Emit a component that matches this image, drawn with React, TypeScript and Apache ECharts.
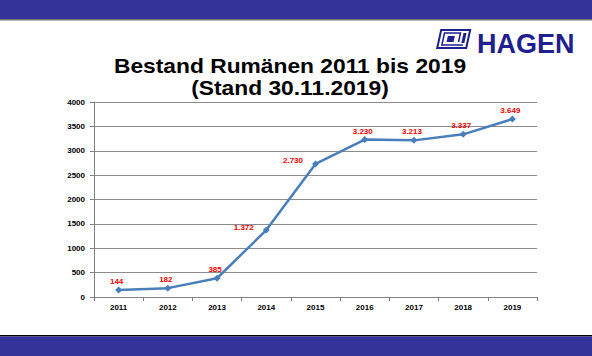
import React, { useEffect, useRef } from "react";
import * as echarts from "echarts";

const years = ["2011", "2012", "2013", "2014", "2015", "2016", "2017", "2018", "2019"];
const bestand = [144, 182, 385, 1372, 2730, 3230, 3213, 3337, 3649];
const yTicks = [0, 500, 1000, 1500, 2000, 2500, 3000, 3500, 4000];
const leftLabelYears = ["2014", "2015"];
const titleLines = ["Bestand Rumänen 2011 bis 2019", "(Stand 30.11.2019)"];

const fmt = (v: number) => String(v).replace(/\B(?=(\d{3})+(?!\d))/g, ".");

function iconPoly(x0: number, y0: number, pts: number[][]) {
  return pts.map(([x, y]) => [x0 + x + (19 - y) * 0.22, y0 + y]);
}

export default function App() {
  const ref = useRef<HTMLDivElement>(null);
  useEffect(() => {
    if (!ref.current) return;
    const chart = echarts.init(ref.current, null, { renderer: "svg" });
    const ix = 437;
    const iy = 30;
    const blue = "#1f1f8f";
    chart.setOption({
      animation: false,
      backgroundColor: "#ffffff",
      grid: { left: 94, right: 55, top: 102, bottom: 59 },
      xAxis: {
        type: "category",
        data: years,
        boundaryGap: true,
        axisLine: { lineStyle: { color: "#808080", width: 1 } },
        axisTick: { show: true, length: 4, lineStyle: { color: "#808080" } },
        axisLabel: {
          color: "#000",
          fontSize: 8,
          fontWeight: "bold",
          fontFamily: "Liberation Sans",
          margin: 6,
        },
      },
      yAxis: {
        type: "value",
        min: yTicks[0],
        max: yTicks[yTicks.length - 1],
        interval: 500,
        axisLine: { show: true, lineStyle: { color: "#808080", width: 1 } },
        axisTick: { show: true, length: 4, lineStyle: { color: "#808080" } },
        splitLine: { lineStyle: { color: "#8c8c8c", width: 1 } },
        axisLabel: {
          color: "#000",
          fontSize: 8,
          fontWeight: "bold",
          fontFamily: "Liberation Sans",
          margin: 9,
          formatter: (v: number) => String(v),
        },
      },
      series: [
        {
          type: "line",
          data: bestand.map((v, i) => {
            const left = leftLabelYears.includes(years[i]);
            return {
              value: v,
              label: left
                ? { position: "left", distance: 9, offset: [0, -3] }
                : { position: "top", distance: 1, offset: [-2, 0] },
            };
          }),
          symbol: "diamond",
          symbolSize: 7,
          lineStyle: { color: "#4a7ebb", width: 2.5 },
          itemStyle: { color: "#4a7ebb" },
          label: {
            show: true,
            color: "#ff0000",
            fontSize: 8,
            fontWeight: "bold",
            fontFamily: "Liberation Sans",
            formatter: (p: any) => fmt(p.value),
          },
        },
      ],
      graphic: [
        { type: "rect", shape: { x: 0, y: 0, width: 592, height: 19 }, style: { fill: "#333399" } },
        { type: "rect", shape: { x: 0, y: 19, width: 592, height: 1.5 }, style: { fill: "#777777" } },
        { type: "rect", shape: { x: 0, y: 335, width: 592, height: 1.5 }, style: { fill: "#000000" } },
        { type: "rect", shape: { x: 0, y: 336.5, width: 592, height: 20 }, style: { fill: "#333399" } },
        {
          type: "text",
          x: 290,
          y: 66,
          scaleX: 1.14,
          style: {
            text: titleLines[0],
            fill: "#000",
            font: "bold 20px 'Liberation Sans'",
            textAlign: "center",
            textVerticalAlign: "middle",
          },
        },
        {
          type: "text",
          x: 290,
          y: 88,
          scaleX: 1.14,
          style: {
            text: titleLines[1],
            fill: "#000",
            font: "bold 20px 'Liberation Sans'",
            textAlign: "center",
            textVerticalAlign: "middle",
          },
        },
        {
          type: "text",
          x: 477,
          y: 43.5,
          style: {
            text: "HAGEN",
            fill: blue,
            font: "bold 27px 'Liberation Sans'",
            textAlign: "left",
            textVerticalAlign: "middle",
          },
        },
        {
          type: "polygon",
          shape: { points: iconPoly(ix, iy, [[0, 0], [29, 0], [29, 18], [0, 18]]) },
          style: { fill: "none", stroke: blue, lineWidth: 2 },
        },
        {
          type: "polyline",
          shape: { points: iconPoly(ix, iy, [[25, 15], [4, 15], [4, 3], [20, 3], [20, 12]]) },
          style: { fill: "none", stroke: blue, lineWidth: 1.5 },
        },
        {
          type: "polygon",
          shape: { points: iconPoly(ix, iy, [[8, 6], [15, 6], [15, 12], [8, 12]]) },
          style: { fill: blue },
        },
        {
          type: "polygon",
          shape: { points: iconPoly(ix, iy, [[23, 3], [26, 3], [26, 13], [23, 13]]) },
          style: { fill: blue },
        },
      ],
    });
    return () => chart.dispose();
  }, []);
  return (
    <div
      ref={ref}
      style={{ position: "fixed", left: 0, top: 0, width: 592, height: 356 }}
    />
  );
}
